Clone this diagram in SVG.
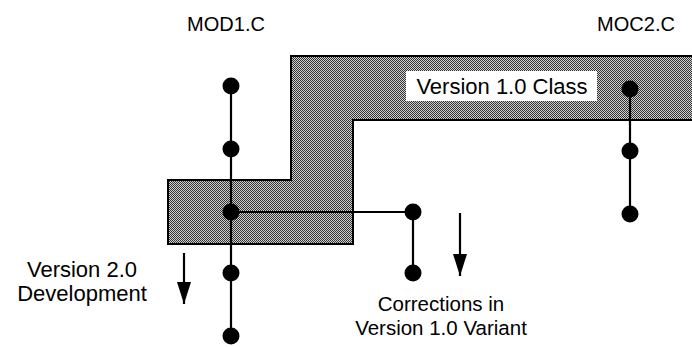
<svg xmlns="http://www.w3.org/2000/svg" width="692" height="347" viewBox="0 0 692 347">
<style>
text { font-family: "Liberation Sans", Arial, sans-serif; font-size: 22px; fill: #000; }
.hdr { font-size: 20px; }
.sm { font-size: 20.5px; }
.dot { fill: #000; }
.ln { stroke: #000; stroke-width: 2.2; fill: none; }
</style>
<defs>
<pattern id="chk" width="2" height="2" patternUnits="userSpaceOnUse">
<rect width="2" height="2" fill="#d0d0d0"/>
<rect width="1" height="1" fill="#333"/>
<rect x="1" y="1" width="1" height="1" fill="#333"/>
</pattern>
<marker id="ah" viewBox="0 0 22 14" refX="22" refY="7" markerWidth="22" markerHeight="14" markerUnits="userSpaceOnUse" orient="auto">
<path d="M0,0 L22,7 L0,14 Z" fill="#000"/>
</marker>
</defs>
<rect width="692" height="347" fill="#fff"/>
<g id="region">
<path d="M168,180 L291,180 L291,56 L694,56 L694,120 L353,120 L353,244 L168,244 Z" fill="url(#chk)" stroke="#000" stroke-width="2"/>
</g>
<g id="class-label">
<rect x="406" y="71" width="191" height="30" fill="#fff"/>
<text x="502" y="94" text-anchor="middle">Version 1.0 Class</text>
</g>
<g id="connectors">
<line class="ln" x1="231" y1="86" x2="231" y2="336"/>
<line class="ln" x1="231" y1="212" x2="413" y2="212"/>
<line class="ln" x1="413" y1="212" x2="413" y2="273"/>
<line class="ln" x1="630" y1="89" x2="630" y2="214"/>
<line class="ln" x1="184" y1="253" x2="184" y2="304" marker-end="url(#ah)"/>
<line class="ln" x1="460" y1="213" x2="460" y2="276" marker-end="url(#ah)"/>
</g>
<g id="mod1">
<text class="hdr" x="226" y="31" text-anchor="middle">MOD1.C</text>
<circle class="dot" cx="231" cy="86" r="8.5"/>
<circle class="dot" cx="231" cy="149" r="8.5"/>
<circle class="dot" cx="231" cy="212" r="8.5"/>
<circle class="dot" cx="231" cy="273" r="8.5"/>
<circle class="dot" cx="231" cy="336" r="8.5"/>
</g>
<g id="variant">
<circle class="dot" cx="413" cy="212" r="8.5"/>
<circle class="dot" cx="413" cy="273" r="8.5"/>
</g>
<g id="moc2">
<text class="hdr" x="636" y="31" text-anchor="middle">MOC2.C</text>
<circle class="dot" cx="630" cy="89" r="8.5"/>
<circle class="dot" cx="630" cy="151" r="8.5"/>
<circle class="dot" cx="630" cy="214" r="8.5"/>
</g>
<g id="dev-label">
<text x="82" y="277" text-anchor="middle">Version 2.0</text>
<text x="82" y="301" text-anchor="middle">Development</text>
</g>
<g id="corr-label">
<text class="sm" x="441" y="311" text-anchor="middle">Corrections in</text>
<text class="sm" x="441" y="335" text-anchor="middle">Version 1.0 Variant</text>
</g>
</svg>
